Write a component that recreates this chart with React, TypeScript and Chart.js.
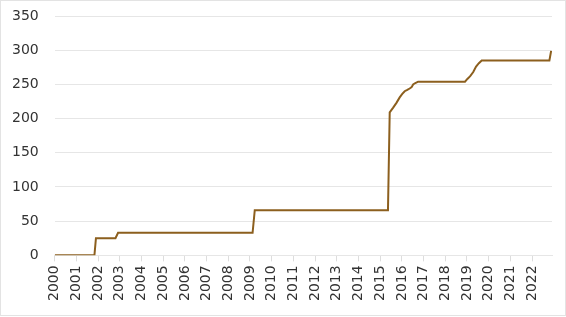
import React, { useEffect, useRef } from "react";
import { Chart, registerables } from "chart.js";

Chart.register(...registerables);

const years: number[] = [
  2000.0, 2001.83, 2001.9, 2002.8, 2002.92, 2009.12, 2009.22, 2015.36, 2015.44,
  2015.6, 2015.75, 2015.9, 2016.02, 2016.13, 2016.25, 2016.36, 2016.45, 2016.52,
  2016.62, 2016.75, 2018.91, 2019.02, 2019.15, 2019.29, 2019.42, 2019.55, 2019.68,
  2022.8, 2022.88,
];
const values: number[] = [
  0, 0, 25, 25, 33, 33, 66, 66, 209,
  216, 223, 231, 236, 240, 242, 244, 246, 250,
  252, 254, 254, 258, 262, 268, 276, 281, 285,
  285, 299,
];
const yTicks: number[] = [0, 50, 100, 150, 200, 250, 300, 350];
const xStart = 2000;
const xEnd = 2022.92;

export default function App() {
  const ref = useRef<HTMLCanvasElement | null>(null);
  useEffect(() => {
    document.body.style.margin = "0";
    if (!ref.current) return;
    const font = { family: "'DejaVu Sans', sans-serif", size: 14 };
    const chart = new Chart(ref.current, {
      type: "line",
      data: {
        datasets: [
          {
            data: years.map((x, i) => ({ x, y: values[i] })),
            borderColor: "#8c5f1e",
            borderWidth: 2,
            pointRadius: 0,
            tension: 0,
            fill: false,
          },
        ],
      },
      options: {
        animation: false,
        responsive: false,
        maintainAspectRatio: false,
        layout: { padding: { top: 15, right: 13, left: 8, bottom: 10 } },
        plugins: { legend: { display: false }, tooltip: { enabled: false } },
        scales: {
          x: {
            type: "linear",
            min: xStart,
            max: xEnd,
            grid: {
              drawOnChartArea: false,
              drawTicks: true,
              tickLength: 6,
              color: "#dddddd",
            },
            border: { display: true, color: "#e6e6e6" },
            ticks: {
              stepSize: 1,
              includeBounds: false,
              autoSkip: false,
              minRotation: 90,
              maxRotation: 90,
              color: "#333333",
              font,
              padding: 4,
              callback: (v: any) => String(v),
            },
          },
          y: {
            min: 0,
            max: 350,
            afterBuildTicks: (axis: any) => {
              axis.ticks = yTicks.map((v) => ({ value: v }));
            },
            grid: {
              color: "#e6e6e6",
              drawTicks: true,
              tickLength: 13,
              tickColor: "rgba(0,0,0,0)",
            },
            border: { display: false },
            ticks: {
              color: "#333333",
              font,
              padding: 3,
              callback: (v: any) => String(v),
            },
          },
        },
      },
    });
    return () => chart.destroy();
  }, []);
  return (
    <div
      style={{
        width: 566,
        height: 316,
        boxSizing: "border-box",
        border: "1px solid #e3e3e3",
      }}
    >
      <canvas ref={ref} width={564} height={314} style={{ display: "block" }} />
    </div>
  );
}
